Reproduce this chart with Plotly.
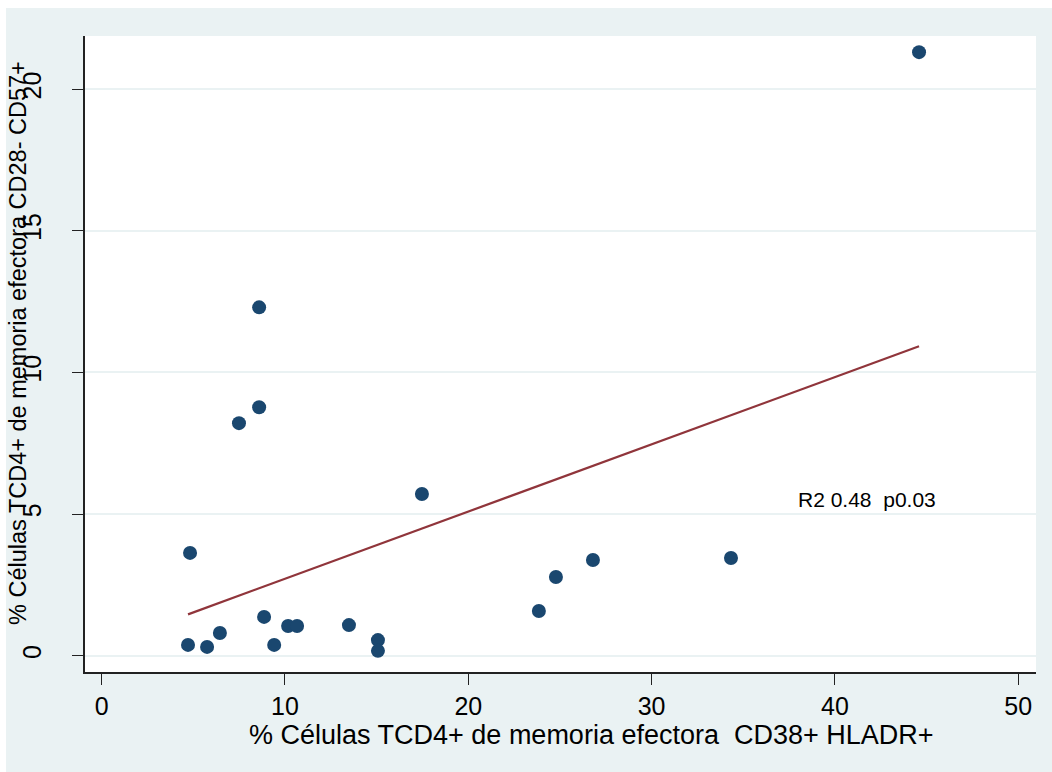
import numpy as np
import plotly.graph_objects as go

# Data
x_cd38_hladr = [44.59, 8.59, 8.59, 7.49, 17.47, 4.82, 34.33, 26.80, 24.78, 23.85,
                8.86, 6.45, 10.17, 10.66, 13.49, 15.07, 15.07, 4.71, 5.75, 9.41]
y_cd28_cd57 = [21.31, 12.30, 8.77, 8.21, 5.71, 3.63, 3.45, 3.38, 2.78, 1.58,
               1.37, 0.80, 1.05, 1.05, 1.08, 0.55, 0.17, 0.38, 0.31, 0.38]
x_ticks = [0, 10, 20, 30, 40, 50]
y_ticks = [0, 5, 10, 15, 20]
x_title = "% Células TCD4+ de memoria efectora  CD38+ HLADR+"
y_title = "% Células TCD4+ de memoria efectora CD28- CD57+"
stat_label = "R2 0.48  p0.03"

W, H = 1052, 772
L, R, T, B = 85, 16, 36, 100
pw, ph = W - L - R, H - T - B

def px_x(p):
    return (p - L) / pw

def px_y(p):
    return (H - B - p) / ph

xa = np.array(x_cd38_hladr)
ya = np.array(y_cd28_cd57)
slope, intercept = np.polyfit(xa, ya, 1)
fit_x = np.array([xa.min(), xa.max()])
fit_y = intercept + slope * fit_x

BG = "#EAF2F3"
NAVY = "#1A476F"
MAROON = "#90353B"
FONT = "Liberation Sans, Arial, sans-serif"

fig = go.Figure()
fig.add_trace(go.Scatter(x=x_cd38_hladr, y=y_cd28_cd57, mode="markers",
                         marker=dict(color=NAVY, size=14, line=dict(width=0)),
                         showlegend=False, hoverinfo="skip"))
fig.add_trace(go.Scatter(x=fit_x, y=fit_y, mode="lines",
                         line=dict(color=MAROON, width=2.2),
                         showlegend=False, hoverinfo="skip"))

fig.update_layout(
    width=W, height=H,
    margin=dict(l=L, r=R, t=T, b=B),
    paper_bgcolor=BG, plot_bgcolor="white",
    font=dict(family=FONT, color="black"),
    xaxis=dict(range=[-0.91, 50.97], tickvals=x_ticks, showgrid=False, zeroline=False,
               showline=True, linecolor="#222222", linewidth=1.5,
               ticks="outside", ticklen=11, tickwidth=1.3, tickcolor="#222222",
               tickfont=dict(size=25, family=FONT)),
    yaxis=dict(range=[-0.576, 21.88], tickvals=y_ticks, showgrid=True,
               gridcolor=BG, gridwidth=2, zeroline=False,
               showline=True, linecolor="#222222", linewidth=1.5,
               ticks="outside", ticklen=11, tickwidth=1.3, tickcolor="#222222",
               tickangle=-90, ticklabelstandoff=21,
               tickfont=dict(size=25, family=FONT)),
    shapes=[
        dict(type="rect", xref="paper", yref="paper", x0=px_x(0), x1=px_x(W),
             y0=px_y(8), y1=px_y(0), fillcolor="white", line=dict(width=0), layer="below"),
        dict(type="rect", xref="paper", yref="paper", x0=px_x(0), x1=px_x(6),
             y0=px_y(H), y1=px_y(0), fillcolor="white", line=dict(width=0), layer="below"),
    ],
    annotations=[
        dict(text=x_title, xref="paper", yref="paper", x=px_x(591), y=px_y(735),
             xanchor="center", yanchor="middle", showarrow=False, borderpad=0,
             font=dict(size=27, family=FONT)),
        dict(text=y_title, xref="paper", yref="paper", x=px_x(18), y=px_y(343),
             xanchor="center", yanchor="middle", showarrow=False, textangle=-90,
             font=dict(size=23.5, family=FONT)),
        dict(text=stat_label, xref="x", yref="y", x=37.9, y=5.5,
             xanchor="left", yanchor="middle", showarrow=False,
             font=dict(size=21, family=FONT)),
    ],
)

fig.write_html("out.html")
